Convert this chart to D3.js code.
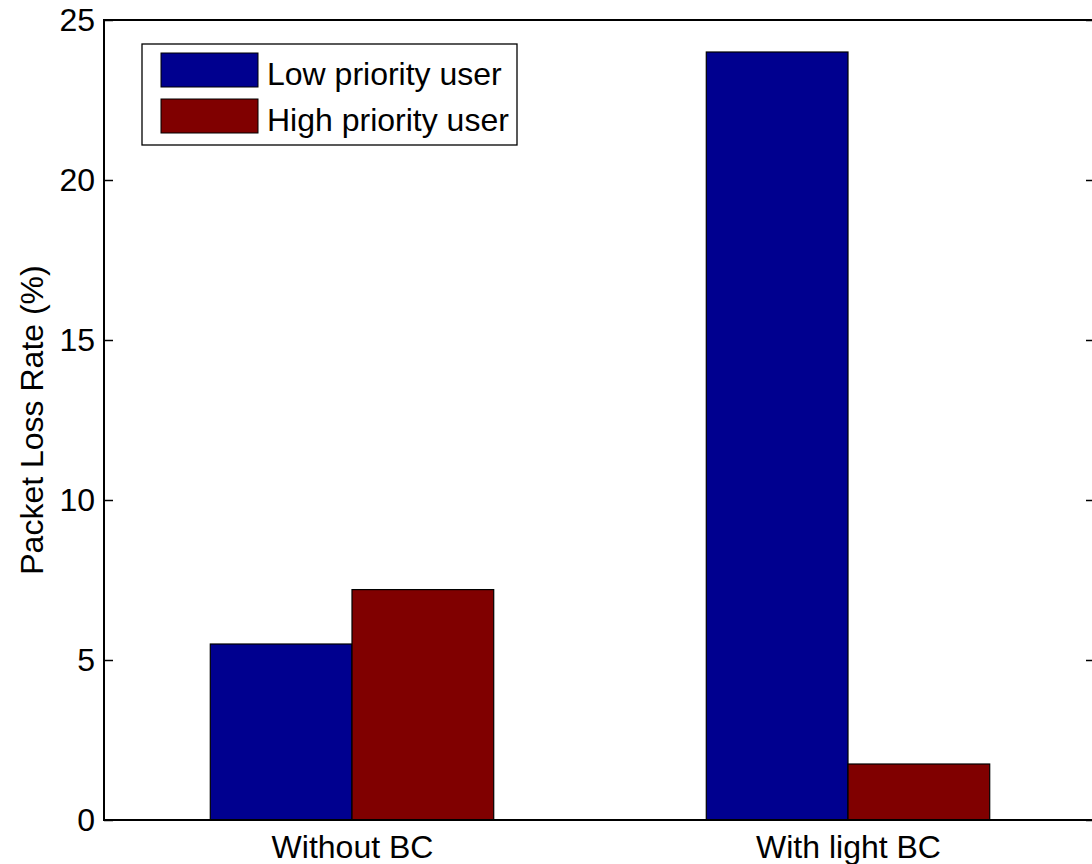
<!DOCTYPE html>
<html>
<head>
<meta charset="utf-8">
<script src="https://cdn.jsdelivr.net/npm/d3@7"></script>
<style>
  html, body { margin: 0; padding: 0; background: #fff; }
  svg { display: block; }
  text { font-family: "Liberation Sans", Arial, Helvetica, sans-serif; fill: #000; }
</style>
</head>
<body>
<svg id="chart" width="1092" height="864"></svg>
<script>
// Packet loss rate per scenario, for each user class
const categories = ["Without BC", "With light BC"];
const seriesNames = ["Low priority user", "High priority user"];
const lowPriority = [5.5, 24.0];
const highPriority = [7.2, 1.75];
const yTicks = [0, 5, 10, 15, 20, 25];
const yLabel = "Packet Loss Rate (%)";

const seriesValues = [lowPriority, highPriority];
const seriesColors = ["#00008f", "#800000"];

const svg = d3.select("#chart");
const FONT = 32;

// Axes box
const plot = { left: 104, right: 1096, top: 20, bottom: 820 };

// Categories sit at 1, 2 ... on a numeric x axis spanning [0.5, n + 0.5]
const x = d3.scaleLinear()
  .domain([0.5, categories.length + 0.5])
  .range([plot.left, plot.right]);
const y = d3.scaleLinear()
  .domain([0, 25])
  .range([plot.bottom, plot.top]);

// Grouped bar geometry: group width shared by the series
const nSeries = seriesValues.length;
const groupWidth = Math.min(0.8, nSeries / (nSeries + 1.5));
const barWidth = groupWidth / nSeries;

const bars = [];
seriesValues.forEach((vals, s) => {
  vals.forEach((v, i) => {
    const pos = i + 1 - groupWidth / 2 + s * barWidth;
    bars.push({ x0: pos, x1: pos + barWidth, value: v, color: seriesColors[s] });
  });
});

svg.append("g")
  .selectAll("rect")
  .data(bars)
  .join("rect")
  .attr("x", d => x(d.x0))
  .attr("width", d => x(d.x1) - x(d.x0))
  .attr("y", d => y(d.value))
  .attr("height", d => y(0) - y(d.value))
  .attr("fill", d => d.color)
  .attr("stroke", "#000")
  .attr("stroke-width", 1.2);

// Left axis: inward ticks with labels
const leftAxis = svg.append("g")
  .attr("transform", `translate(${plot.left},0)`)
  .call(d3.axisLeft(y).tickValues(yTicks).tickSize(-9).tickPadding(9).tickFormat(d3.format("d")));
leftAxis.select(".domain").remove();
leftAxis.selectAll("line").attr("stroke", "#000").attr("stroke-width", 1.5);
leftAxis.selectAll("text").attr("font-size", FONT).style("font-family", null);
leftAxis.attr("font-family", null).attr("font-size", null);

// Right axis: inward ticks only
const rightAxis = svg.append("g")
  .attr("transform", `translate(${plot.right},0)`)
  .call(d3.axisRight(y).tickValues(yTicks).tickSize(-10).tickFormat(""));
rightAxis.select(".domain").remove();
rightAxis.selectAll("line").attr("stroke", "#000").attr("stroke-width", 1.5);

// Bottom category labels
const bottomAxis = svg.append("g")
  .attr("transform", `translate(0,${plot.bottom})`)
  .call(d3.axisBottom(x)
    .tickValues(categories.map((c, i) => i + 1))
    .tickSize(0)
    .tickPadding(15)
    .tickFormat((d, i) => categories[i]));
bottomAxis.select(".domain").remove();
bottomAxis.selectAll("text").attr("font-size", FONT);
bottomAxis.attr("font-family", null).attr("font-size", null);

// Axes box outline
svg.append("rect")
  .attr("x", plot.left)
  .attr("y", plot.top)
  .attr("width", plot.right - plot.left)
  .attr("height", plot.bottom - plot.top)
  .attr("fill", "none")
  .attr("stroke", "#000")
  .attr("stroke-width", 2);

// Y axis title
svg.append("text")
  .attr("transform", `translate(43,${(plot.top + plot.bottom) / 2}) rotate(-90)`)
  .attr("text-anchor", "middle")
  .attr("font-size", FONT)
  .text(yLabel);

// Legend
const legend = svg.append("g").attr("transform", "translate(142,44)");
legend.append("rect")
  .attr("width", 375)
  .attr("height", 101)
  .attr("fill", "#fff")
  .attr("stroke", "#000")
  .attr("stroke-width", 1.3);
const items = legend.selectAll("g.item")
  .data(seriesNames)
  .join("g")
  .attr("class", "item")
  .attr("transform", (d, i) => `translate(0,${9 + i * 46})`);
items.append("rect")
  .attr("x", 19)
  .attr("width", 97)
  .attr("height", 34)
  .attr("fill", (d, i) => seriesColors[i])
  .attr("stroke", "#000")
  .attr("stroke-width", 1);
items.append("text")
  .attr("x", 125)
  .attr("y", 32)
  .attr("font-size", FONT)
  .text(d => d);
</script>
</body>
</html>
